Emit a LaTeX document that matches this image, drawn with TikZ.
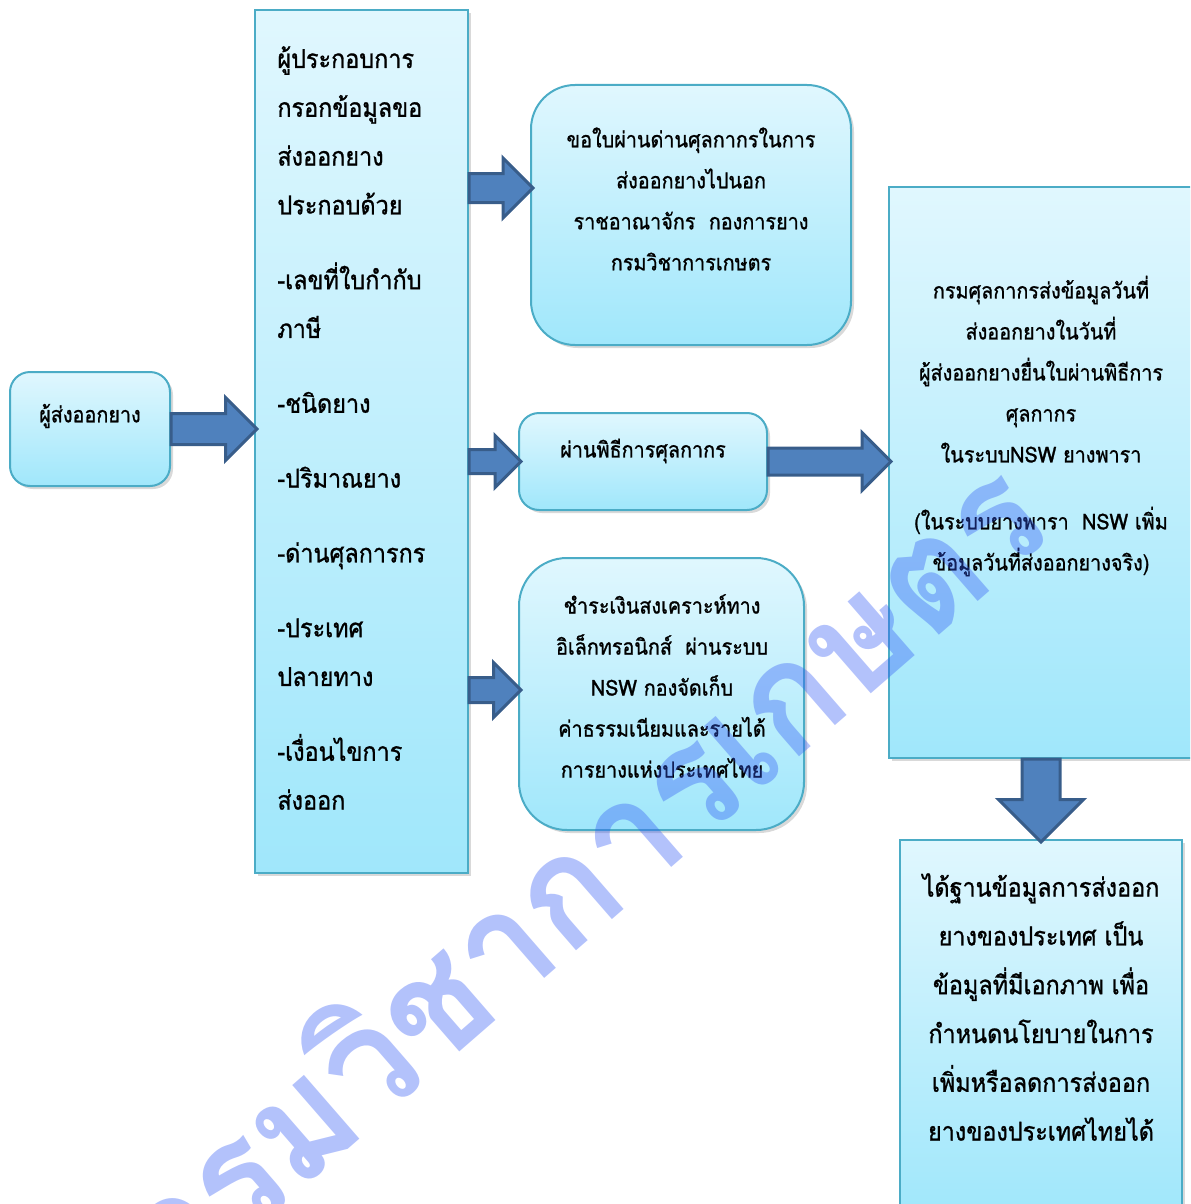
\documentclass[tikz,border=0pt]{standalone}
\usepackage{fontspec}
\setmainfont{Loma}[Script=Thai, FakeStretch=0.9, FakeBold=1]
\newfontfamily\stampfont{Loma}[Script=Thai, FakeStretch=0.95]
\usepackage{xcolor}
\usetikzlibrary{positioning, calc, shapes.arrows, shadows}

\definecolor{boxtop}{HTML}{E0F7FE}
\definecolor{boxbottom}{HTML}{A0E7FB}
\definecolor{boxline}{HTML}{4BACC6}
\definecolor{arrowfill}{HTML}{4F81BD}
\definecolor{arrowline}{HTML}{385D8A}
\definecolor{stampblue}{HTML}{3259F5}

% block arrow from one point to another: name, style, from, to
\newcommand{\blockarrow}[4]{%
  \path let \p1=(#3), \p2=(#4), \n1={veclen(\x2-\x1,\y2-\y1)}, \n2={atan2(\y2-\y1,\x2-\x1)}
    in node[#2, minimum height=\n1, rotate=\n2, anchor=tail] (#1) at (\p1) {};}

\begin{document}
\begin{tikzpicture}[
        x=0.5pt, y=-0.5pt,
        % Define styles for consistency
        box/.style={draw=boxline, line width=1pt, top color=boxtop, bottom color=boxbottom,
            drop shadow={opacity=0.3, shadow xshift=1.5pt, shadow yshift=-1.5pt}, inner sep=0pt},
        roundbox/.style={box, rounded corners=#1},
        bigtxt/.style={font=\fontsize{13}{24.4}\selectfont, inner sep=0pt},
        smalltxt/.style={font=\fontsize{11}{20.5}\selectfont, align=center, inner sep=0pt},
        fatarrow/.style 2 args={single arrow, draw=arrowline, fill=arrowfill, line width=1.5pt,
            single arrow tip angle=90, inner xsep=0pt, outer sep=0pt,
            inner ysep=#1, single arrow head extend=#2},
        stamptext/.style={font=\stampfont\bfseries\fontsize{76}{78}\selectfont, text=stampblue,
            text opacity=0.37, inner sep=0pt}
    ]

        \clip (0,0) rectangle (1190,1204);

        % --- Boxes ---
        \node[roundbox=10pt, minimum width=80pt, minimum height=57pt] (exporter) at (90,429) {};
        \node[box, minimum width=106.5pt, minimum height=431.5pt] (formbox) at (361.5,441.5) {};
        \node[roundbox=22pt, minimum width=160pt, minimum height=130pt] (permitbox) at (691,215) {};
        \node[roundbox=10pt, minimum width=124pt, minimum height=48.5pt] (customsbox) at (643,461.5) {};
        \node[roundbox=24pt, minimum width=142.5pt, minimum height=136pt] (paybox) at (661.5,694) {};
        \node[box, minimum width=152pt, minimum height=285.5pt] (datebox) at (1041,472.5) {};
        \node[box, minimum width=141pt, minimum height=187.5pt] (resultbox) at (1041,1027.5) {};

        % --- Texts ---
        \node[smalltxt] (exporterText) at (90,416) {ผู้ส่งออกยาง};
        \node[bigtxt, align=left, anchor=west] (formText) at (277,428)
            {ผู้ประกอบการ\\กรอกข้อมูลขอ\\ส่งออกยาง\\ประกอบด้วย\\[13pt]
             -เลขที่ใบกำกับ\\ภาษี\\[13pt]-ชนิดยาง\\[13pt]-ปริมาณยาง\\[13pt]
             -ด่านศุลการกร\\[13pt]-ประเทศ\\ปลายทาง\\[13pt]-เงื่อนไขการ\\ส่งออก};
        \node[smalltxt] (permitText) at (691,199)
            {ขอใบผ่านด่านศุลกากรในการ\\ส่งออกยางไปนอก\\ราชอาณาจักร\ \ กองการยาง\\กรมวิชาการเกษตร};
        \node[smalltxt] (customsText) at (643,451) {ผ่านพิธีการศุลกากร};
        \node[smalltxt] (payText) at (662,686)
            {ชำระเงินสงเคราะห์ทาง\\อิเล็กทรอนิกส์\ \ ผ่านระบบ\\NSW กองจัดเก็บ\\ค่าธรรมเนียมและรายได้\\การยางแห่งประเทศไทย};
        \node[smalltxt] (dateText) at (1041,426)
            {กรมศุลกากรส่งข้อมูลวันที่\\ส่งออกยางในวันที่\\ผู้ส่งออกยางยื่นใบผ่านพิธีการ\\ศุลกากร\\ในระบบNSW ยางพารา\\[13pt]
             (ในระบบยางพารา\ \ NSW เพิ่ม\\ข้อมูลวันที่ส่งออกยางจริง)};
        \node[bigtxt, align=center] (resultText) at (1041,1007)
            {ได้ฐานข้อมูลการส่งออก\\ยางของประเทศ เป็น\\ข้อมูลที่มีเอกภาพ เพื่อ\\กำหนดนโยบายในการ\\เพิ่มหรือลดการส่งออก\\ยางของประเทศไทยได้};

        % --- Arrows ---
        \coordinate (permitIn) at ($(permitbox.west)+(3,-27)$);
        \coordinate (payIn) at ($(paybox.west)+(3,-4)$);

        \blockarrow{arrowOne}{fatarrow={7pt}{8pt}}{exporter.east}{$(exporter.east -| formbox.west)+(3,0)$}
        \blockarrow{arrowTwo}{fatarrow={6.5pt}{7.75pt}}{formbox.east |- permitIn}{permitIn}
        \blockarrow{arrowThree}{fatarrow={5.25pt}{7pt}}{formbox.east |- customsbox.west}{$(customsbox.west)+(3,0)$}
        \blockarrow{arrowFour}{fatarrow={6pt}{7.75pt}}{customsbox.east}{$(customsbox.east -| datebox.west)+(3,0)$}
        \blockarrow{arrowFive}{fatarrow={5.5pt}{7.5pt}}{formbox.east |- payIn}{payIn}
        \blockarrow{arrowSix}{fatarrow={8.75pt}{11.75pt}}{datebox.south}{$(datebox.south |- resultbox.north)+(0,3)$}

        % --- Watermark ---
        \node[stamptext, rotate=41] (stamp) at (575,870) {กรมวิชาการเกษตร};

\end{tikzpicture}
\end{document}
